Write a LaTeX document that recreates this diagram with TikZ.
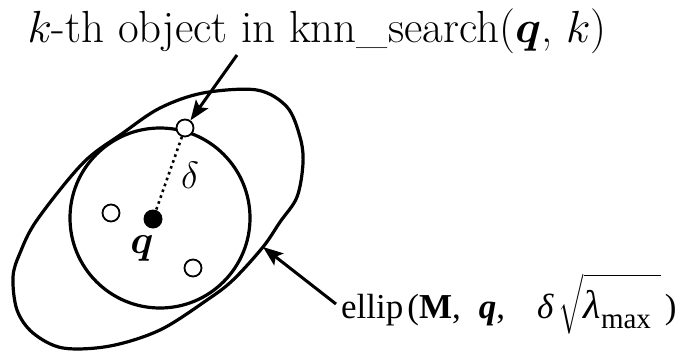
\RequirePackage{fix-cm}
\documentclass[tikz,border=0pt]{standalone}
\usepackage{amsmath}
\usepackage{fontspec}
\newfontfamily\timesf{Liberation Serif}
\usetikzlibrary{arrows.meta}
\tikzset{
  thick curve/.style={line width=3.2pt},
  objdot/.style={circle,draw,line width=1.8pt,fill=white,minimum size=17pt,inner sep=0pt},
  qdot/.style={circle,fill=black,minimum size=19pt,inner sep=0pt},
  ptr/.style={line width=3pt,-{Stealth[length=20pt,width=15pt,inset=4pt]}},
}
\begin{document}
\begin{tikzpicture}[x=1pt,y=-1pt]
\useasboundingbox (0,0) rectangle (680,351);
% outer egg-shaped ellipse
\draw[thick curve] plot[smooth cycle,tension=0.55] coordinates{
 (160,108) (203,93) (257,90) (287,107) (300,137) (303,163) (297,197)
 (280,222) (263,247) (233,280) (207,300) (160,330) (110,346) (63,348)
 (33,333) (17,310) (13,277) (20,253) (37,220) (83,163) (123,133)};
% circle
\draw[thick curve] (160,218) circle[radius=90];
% objects
\node[qdot] (q) at (153,219) {};
\node[objdot] (kth) at (185,128) {};
\node[objdot] (o1) at (111,213) {};
\node[objdot] (o2) at (193,268) {};
\draw[line width=2.6pt,dash pattern=on 2.6pt off 3.6pt] (kth) -- (q);
\node (delta) at (190,175) {\fontsize{38}{40}\selectfont $\delta$};
\node (qlab) at (142,248) {\fontsize{40}{42}\selectfont $\boldsymbol{q}$};
% labels
\node[anchor=base,inner sep=0pt] (top) at (317,42)
  {\fontsize{45}{48}\selectfont $k$-th object in knn\_search($\boldsymbol{q}$, $k$)};
\node[anchor=base west,inner sep=0pt] (bot) at (341,318)
  {\fontsize{35}{38}\timesf ellip\hspace{4pt}(\textbf{M},\hspace{18pt}\textbf{\textit{q}},\hspace{32pt}\textit{δ}\hspace{5pt}$\sqrt{\rule[-6pt]{0pt}{41pt}\mbox{\fontsize{40}{40}\timesf\textit{λ}\raisebox{-0.25em}{\fontsize{29}{30}\selectfont max}\hspace{10pt}}}$\hspace{4pt})};
\coordinate (a1) at (237,55);
\coordinate (a2s) at (336,304);
\coordinate (a2e) at (263,247);
\draw[ptr] (a1) -- (kth);
\draw[ptr] (a2s) -- (a2e);
\end{tikzpicture}
\end{document}
